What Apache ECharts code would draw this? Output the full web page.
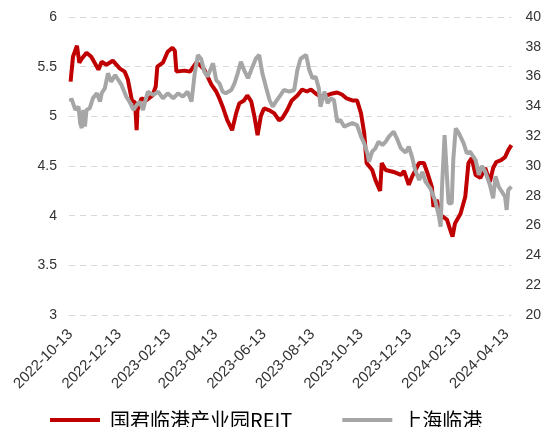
<!DOCTYPE html>
<html>
<head>
<meta charset="utf-8">
<script src="https://cdn.jsdelivr.net/npm/echarts@6/dist/echarts.min.js"></script>
<style>
html,body{margin:0;padding:0;background:#fff;}
#chart{width:544px;height:427px;}
</style>
</head>
<body>
<div id="chart"></div>
<script>
var tickDates = ['2022-10-13','2022-12-13','2023-02-13','2023-04-13','2023-06-13','2023-08-13','2023-10-13','2023-12-13','2024-02-13','2024-04-13'];

var redName = '国君临港产业园REIT';
var greyName = '上海临港';

var redDates = ['2022-10-13','2022-10-16','2022-10-21','2022-10-24','2022-10-27','2022-11-02','2022-11-08','2022-11-17','2022-11-21','2022-11-27',
'2022-12-05','2022-12-14','2022-12-20','2022-12-24','2022-12-29','2023-01-02','2023-01-04','2023-01-05','2023-01-10','2023-01-16',
'2023-01-24','2023-01-28','2023-01-30','2023-02-06','2023-02-12','2023-02-18','2023-02-21','2023-02-23','2023-03-05','2023-03-12',
'2023-03-20','2023-03-24','2023-03-30','2023-04-08','2023-04-14','2023-04-18','2023-04-22','2023-04-28','2023-05-04','2023-05-09',
'2023-05-13','2023-05-19','2023-05-23','2023-05-28','2023-06-01','2023-06-05','2023-06-09','2023-06-13','2023-06-20','2023-06-26',
'2023-07-02','2023-07-06','2023-07-12','2023-07-18','2023-07-25','2023-07-31','2023-08-06','2023-08-11','2023-08-17','2023-08-23',
'2023-08-31','2023-09-07','2023-09-13','2023-09-19','2023-09-25','2023-10-02','2023-10-08','2023-10-13','2023-10-17','2023-10-20',
'2023-10-27','2023-10-31','2023-11-06','2023-11-08','2023-11-13','2023-11-23','2023-12-02','2023-12-06','2023-12-12','2023-12-16',
'2023-12-18','2023-12-25','2023-12-31','2024-01-04','2024-01-10','2024-01-12','2024-01-16','2024-01-22','2024-01-29','2024-02-02',
'2024-02-05','2024-02-08','2024-02-15','2024-02-21','2024-02-25','2024-02-29','2024-03-05','2024-03-11','2024-03-17','2024-03-23',
'2024-03-27','2024-03-31','2024-04-06','2024-04-11','2024-04-15','2024-04-19'];
var redValues = [5.35,5.60,5.71,5.54,5.58,5.64,5.60,5.47,5.55,5.52,
5.56,5.48,5.45,5.37,5.16,5.14,4.86,5.06,5.18,5.16,
5.21,5.30,5.50,5.54,5.65,5.69,5.66,5.45,5.46,5.45,
5.54,5.52,5.47,5.32,5.25,5.18,5.10,4.96,4.86,5.03,
5.13,5.16,5.21,5.15,5.00,4.81,5.00,5.08,5.06,5.03,
4.96,4.98,5.06,5.16,5.21,5.27,5.25,5.27,5.23,5.20,
5.21,5.23,5.24,5.22,5.18,5.16,5.16,5.03,4.83,4.53,
4.46,4.36,4.25,4.53,4.46,4.44,4.41,4.45,4.31,4.39,
4.38,4.53,4.53,4.44,4.29,4.09,4.16,4.00,3.96,3.86,
3.79,3.92,4.02,4.19,4.53,4.58,4.41,4.38,4.48,4.34,
4.48,4.54,4.56,4.59,4.66,4.71];

var greyDates = ['2022-10-13','2022-10-14','2022-10-19','2022-10-23','2022-10-25','2022-10-27','2022-10-29','2022-10-31','2022-11-02','2022-11-06',
'2022-11-10','2022-11-15','2022-11-19','2022-11-21','2022-11-25','2022-11-29','2022-12-03','2022-12-08','2022-12-12','2022-12-16',
'2022-12-22','2022-12-26','2022-12-31','2023-01-04','2023-01-08','2023-01-12','2023-01-18','2023-01-25','2023-01-31','2023-02-06',
'2023-02-12','2023-02-19','2023-02-25','2023-03-03','2023-03-09','2023-03-14','2023-03-18','2023-03-22','2023-03-26','2023-03-30',
'2023-04-03','2023-04-10','2023-04-14','2023-04-18','2023-04-22','2023-04-26','2023-05-03','2023-05-07','2023-05-11','2023-05-15',
'2023-05-19','2023-05-24','2023-05-28','2023-06-03','2023-06-07','2023-06-11','2023-06-16','2023-06-20','2023-06-24','2023-06-28',
'2023-07-04','2023-07-08','2023-07-15','2023-07-21','2023-07-25','2023-07-29','2023-08-05','2023-08-09','2023-08-13','2023-08-17',
'2023-08-21','2023-08-23','2023-08-28','2023-09-01','2023-09-05','2023-09-09','2023-09-13','2023-09-17','2023-09-22','2023-09-26',
'2023-10-02','2023-10-08','2023-10-13','2023-10-17','2023-10-21','2023-10-23','2023-10-27','2023-10-31','2023-11-04','2023-11-09',
'2023-11-13','2023-11-17','2023-11-23','2023-11-27','2023-12-02','2023-12-04','2023-12-08','2023-12-12','2023-12-16','2023-12-20',
'2023-12-25','2023-12-29','2024-01-02','2024-01-08','2024-01-14','2024-01-19','2024-01-21','2024-01-23','2024-01-26','2024-01-29',
'2024-01-31','2024-02-04','2024-02-06','2024-02-09','2024-02-13','2024-02-19','2024-02-23','2024-02-27','2024-03-05','2024-03-09',
'2024-03-13','2024-03-17','2024-03-23','2024-03-27','2024-03-30','2024-04-03','2024-04-11','2024-04-13','2024-04-15','2024-04-19'];
var greyValues = [34.32,34.54,33.76,33.98,32.87,32.54,33.76,32.64,33.76,33.87,
34.54,34.88,34.32,34.88,35.21,36.22,35.66,36.10,35.77,35.44,
34.65,34.32,33.76,34.09,34.32,33.76,34.99,34.77,34.99,34.54,
34.88,34.54,34.88,34.65,34.99,34.32,36.22,37.45,37.20,36.33,
35.99,36.89,35.77,35.55,34.99,34.88,35.10,35.55,36.22,37.00,
36.44,35.89,36.44,37.23,37.45,36.22,35.21,34.43,33.98,34.32,
34.77,35.10,34.99,35.10,36.44,37.20,37.45,36.44,35.89,35.99,
35.21,33.98,34.99,34.21,34.54,34.43,32.97,33.09,32.64,32.75,
32.87,32.75,31.97,31.52,30.85,30.29,30.96,31.19,31.63,31.41,
31.63,31.97,32.30,31.86,31.19,31.07,30.90,31.30,30.63,29.73,
29.06,29.60,28.95,28.50,27.72,26.60,25.93,28.84,32.08,29.28,
27.50,27.50,30.50,32.53,32.19,31.52,30.85,30.96,30.40,29.40,
30.00,29.62,28.72,27.83,29.30,28.61,27.94,27.05,28.39,28.61];

function ts(s) { return echarts.number.parseDate(s).getTime(); }
function pairs(d, v) { return d.map(function (x, i) { return [ts(x), v[i]]; }); }
function fmt(t) {
  var d = new Date(t);
  var m = d.getMonth() + 1, dd = d.getDate();
  return d.getFullYear() + '-' + (m < 10 ? '0' : '') + m + '-' + (dd < 10 ? '0' : '') + dd;
}

var chart = echarts.init(document.getElementById('chart'));
var labelFont = { fontFamily: 'Liberation Sans, Arial, sans-serif', fontSize: 14, color: '#333' };

chart.setOption({
  animation: false,
  backgroundColor: '#fff',
  grid: { left: 69, right: 31, top: 17, bottom: 112, containLabel: false },
  legend: {
    left: 45, top: 405,
    itemWidth: 50, itemHeight: 4, itemGap: 50,
    icon: 'rect',
    textStyle: { fontFamily: 'Noto Sans CJK SC', fontSize: 20, color: '#000', padding: [0, 0, 0, 5] },
    data: [redName, greyName]
  },
  xAxis: {
    type: 'value',
    min: ts('2022-10-11'),
    max: ts('2024-04-19'),
    axisLine: { show: false },
    axisTick: { show: false },
    splitLine: { show: false },
    axisLabel: Object.assign({}, labelFont, {
      fontSize: 15,
      rotate: 45,
      margin: 17,
      customValues: tickDates.map(ts),
      formatter: function (v) { return fmt(v); },
      hideOverlap: false
    })
  },
  yAxis: [{
    type: 'value', min: 3, max: 6, interval: 0.5,
    axisLine: { show: false }, axisTick: { show: false },
    splitLine: { show: true, lineStyle: { color: '#d9d9d9', type: [6, 5], width: 1 } },
    axisLabel: Object.assign({ margin: 12 }, labelFont)
  }, {
    type: 'value', min: 20, max: 40, interval: 2,
    axisLine: { show: false }, axisTick: { show: false },
    splitLine: { show: false },
    axisLabel: Object.assign({ margin: 14 }, labelFont)
  }],
  series: [{
    name: redName, type: 'line', yAxisIndex: 0,
    data: pairs(redDates, redValues),
    symbol: 'none', lineStyle: { color: '#C00000', width: 4 }, itemStyle: { color: '#C00000' }
  }, {
    name: greyName, type: 'line', yAxisIndex: 1,
    data: pairs(greyDates, greyValues),
    symbol: 'none', lineStyle: { color: '#A6A6A6', width: 4 }, itemStyle: { color: '#A6A6A6' }
  }]
});
</script>
</body>
</html>
